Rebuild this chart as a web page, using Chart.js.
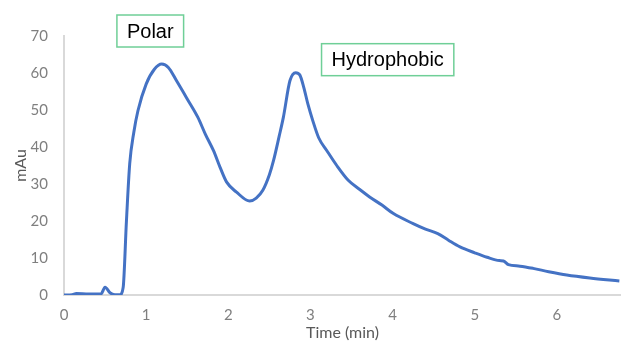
<!DOCTYPE html>
<html lang="en">
<head>
  <meta charset="UTF-8">
  <title>Chromatogram</title>
  <script src="https://cdn.jsdelivr.net/npm/chart.js"></script>
  <style>
    body { margin: 0; background: #fff; }
    #wrap { position: relative; width: 621px; height: 342px; }
  </style>
</head>
<body>
  <div id="wrap"><canvas id="chart"></canvas></div>

  <script>
    // retention time (min) and absorbance (mAu)
    const timeMin = [0, 0.1, 0.15, 0.3, 0.45, 0.5, 0.56, 0.62, 0.68, 0.72, 0.76, 0.8, 0.85, 0.9, 1.0, 1.1, 1.19, 1.27, 1.37, 1.5,
      1.63, 1.72, 1.82, 1.9, 1.98, 2.1, 2.26, 2.34, 2.42, 2.5, 2.55, 2.62, 2.67, 2.75, 2.82, 2.87, 2.92, 2.97, 3.03, 3.1,
      3.2, 3.32, 3.46, 3.6, 3.72, 3.87, 4.01, 4.25, 4.4, 4.55, 4.68, 4.82, 5.0, 5.15, 5.3, 5.35, 5.41, 5.55, 5.71, 5.9,
      6.12, 6.4, 6.76];
    const absorbance = [0, 0.1, 0.4, 0.3, 0.3, 2.1, 0.6, 0.1, 0.1, 2, 20, 35.5, 44, 49.8, 57, 61, 62.4, 61.5, 57.9, 53,
      48, 43.5, 39, 34.5, 30.5, 27.8, 25.4, 26.2, 28.3, 32.5, 36.3, 43, 48, 57.9, 60.1, 59.5, 56, 51.5, 47, 42.5,
      39, 35, 31, 28.5, 26.5, 24.3, 22, 19.3, 17.8, 16.6, 14.8, 13, 11.4, 10.2, 9.3, 9.2, 8.2, 7.8, 7.2, 6.3,
      5.4, 4.6, 3.8];

    const xTicks = [0, 1, 2, 3, 4, 5, 6];
    const yTicks = [0, 10, 20, 30, 40, 50, 60, 70];

    // peak labels, anchored in data units (time, mAu)
    const labelText = ['Polar', 'Hydrophobic'];
    const labelTime = [1.05, 3.94];
    const labelValue = [71.35, 63.6];

    const peakLabels = {
      id: 'peakLabels',
      afterDraw(chart) {
        const ctx = chart.ctx;
        const xs = chart.scales.x, ys = chart.scales.y;
        ctx.save();
        ctx.font = '20px "Liberation Sans", Arial, sans-serif';
        ctx.textAlign = 'center';
        ctx.textBaseline = 'middle';
        labelText.forEach((txt, i) => {
          const cx = xs.getPixelForValue(labelTime[i]);
          const cy = ys.getPixelForValue(labelValue[i]);
          const w = ctx.measureText(txt).width + 20;
          const h = 32;
          ctx.fillStyle = '#fff';
          ctx.fillRect(cx - w / 2, cy - h / 2, w, h);
          ctx.strokeStyle = '#6fcf97';
          ctx.lineWidth = 1.5;
          ctx.strokeRect(cx - w / 2, cy - h / 2, w, h);
          ctx.fillStyle = '#000';
          ctx.fillText(txt, cx, cy + 1);
        });
        ctx.restore();
      }
    };

    const axisFont = { family: 'Lato, "Open Sans", sans-serif', size: 15 };
    const titleFont = { family: 'Lato, "Open Sans", sans-serif', size: 16 };

    new Chart(document.getElementById('chart'), {
      type: 'line',
      data: {
        datasets: [{
          data: timeMin.map((t, i) => ({ x: t, y: absorbance[i] })),
          borderColor: '#4472c4',
          borderWidth: 3,
          pointRadius: 0,
          cubicInterpolationMode: 'monotone',
          fill: false
        }]
      },
      options: {
        responsive: true,
        maintainAspectRatio: false,
        animation: false,
        layout: { padding: { top: 36, right: 0, left: 11, bottom: 0 } },
        plugins: { legend: { display: false }, tooltip: { enabled: false } },
        scales: {
          x: {
            type: 'linear',
            min: 0,
            max: 6.78,
            afterBuildTicks: s => { s.ticks = xTicks.map(v => ({ value: v })); },
            afterFit: s => { s.height = 47; },
            grid: { display: false, drawTicks: false },
            border: { color: '#d9d9d9', width: 2 },
            ticks: { color: '#7f7f7f', font: axisFont, padding: 11, maxRotation: 0 },
            title: { display: true, text: 'Time (min)', color: '#595959', font: titleFont, padding: 0 }
          },
          y: {
            min: 0,
            max: 70,
            afterBuildTicks: s => { s.ticks = yTicks.map(v => ({ value: v })); },
            afterFit: s => { s.width = 53; },
            grid: { display: false, drawTicks: false },
            border: { color: '#d9d9d9', width: 2 },
            ticks: { color: '#7f7f7f', font: axisFont, padding: 16 },
            title: { display: true, text: 'mAu', color: '#595959', font: titleFont, padding: 0 }
          }
        }
      },
      plugins: [peakLabels]
    });
  </script>
</body>
</html>
